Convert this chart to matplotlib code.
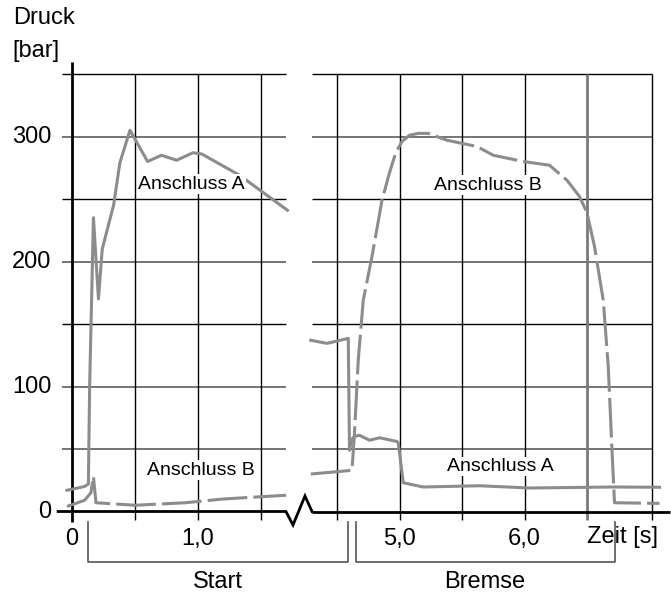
import matplotlib.pyplot as plt

plt.rcParams['font.family'] = ['Liberation Sans', 'DejaVu Sans']

# Start phase (seconds, bar)
start_a_t = [-0.04, 0.10, 0.13, 0.14, 0.17, 0.21, 0.24, 0.33, 0.38, 0.46, 0.60, 0.71, 0.83, 0.96, 1.03, 1.33, 1.71]
start_a_p = [17, 20, 22, 100, 235, 170, 210, 245, 279, 305, 280, 285, 281, 287, 286, 269, 241]
start_b_t = [-0.04, 0.10, 0.15, 0.17, 0.19, 0.50, 0.90, 1.20, 1.70]
start_b_p = [4, 9, 15, 28, 7, 5, 7, 10, 13]

# Braking phase
brake_a_t = [4.29, 4.42, 4.59, 4.60, 4.62, 4.64, 4.68, 4.76, 4.84, 4.98, 4.99, 5.03, 5.19, 5.64, 6.04, 6.71, 7.08]
brake_a_p = [137, 134.5, 138.5, 49, 58, 60, 61, 57, 59, 56, 55, 23, 19.6, 20.6, 18.8, 19.6, 19.4]
brake_b_t = [4.29, 4.52, 4.62, 4.64, 4.67, 4.71, 4.78, 4.86, 4.92, 4.97, 5.02, 5.08, 5.15, 5.23, 5.38, 5.62, 5.75,
             5.99, 6.20, 6.34, 6.44, 6.50, 6.56, 6.63, 6.67, 6.70, 6.72, 7.08]
brake_b_p = [30, 32, 33, 63, 121, 169, 204, 249, 271, 287, 296, 301, 302.5, 302.5, 297, 292, 285,
             280, 277, 265, 252, 239, 212, 169, 116, 49, 7, 6.5]

y_ticks = [0, 100, 200, 300]
gray_rows = [50, 100, 200, 300]
black_rows = [150, 250, 350]

W, H = 671, 592
fig = plt.figure(figsize=(W / 100, H / 100), dpi=100)
split = 299
ax1 = fig.add_axes([0, 0, split / W, 1])
ax2 = fig.add_axes([split / W, 0, (W - split) / W, 1])

ylim = ((511.5 - H) / 1.25, 511.5 / 1.25)
ax1.set_xlim((0 - 72) / 126, (split - 72) / 126)
ax2.set_xlim(4.5 + (split - 337) / 125, 4.5 + (W - 337) / 125)
for ax in (ax1, ax2):
    ax.set_ylim(ylim)
    ax.axis('off')

line_col = '#8c8c8c'
dk = '#6a6a6a'

# grid left
ax1.hlines(gray_rows, -0.08, 1.70, color=dk, lw=1.3)
ax1.hlines(black_rows, -0.08, 1.70, color='black', lw=1.0)
ax1.vlines([0.5, 1.0, 1.5], -7, 350, color='black', lw=1.0)
ax1.vlines(0, -8, 360, color='black', lw=2.0)
ax1.plot([-0.11, 1.698, 1.754, 1.849, 1.905], [0, 0, -10.8, 12.4, 0], color='black', lw=2.0,
         clip_on=False, solid_joinstyle='miter')

# grid right
ax2.hlines(gray_rows, 4.30, 7.02, color=dk, lw=1.3)
ax2.hlines(black_rows, 4.30, 7.02, color='black', lw=1.0)
ax2.vlines([4.5, 5.0, 5.5, 6.0, 7.02], -7, 350, color='black', lw=1.0)
ax2.vlines(6.5, -7, 350, color='#7a7a7a', lw=2.0)
ax2.hlines(0, 4.30, 7.16, color='black', lw=2.0)

# curves
kw = dict(color=line_col, lw=2.2, solid_joinstyle='round', dash_joinstyle='round')
ax1.plot(start_a_t, start_a_p, clip_on=False, **kw)
ax1.plot(start_b_t, start_b_p, dashes=(13, 2), clip_on=False, **kw)
ax2.plot(brake_a_t, brake_a_p, **kw)
ax2.plot(brake_b_t, brake_b_p, dashes=(13, 2), **kw)

box = dict(facecolor='white', edgecolor='none', pad=1)
ax1.text(0.95, 262, 'Anschluss A', ha='center', va='center', fontsize=14, bbox=box)
ax1.text(1.02, 33, 'Anschluss B', ha='center', va='center', fontsize=14, bbox=box)
ax2.text(5.71, 261, 'Anschluss B', ha='center', va='center', fontsize=14, bbox=box)
ax2.text(5.81, 36, 'Anschluss A', ha='center', va='center', fontsize=14, bbox=box)

# tick labels
for v in y_ticks:
    ax1.text(-0.165, v, str(v), ha='right', va='center', fontsize=17)
ax1.text(0, -22, '0', ha='center', va='center', fontsize=17)
ax1.text(1.0, -22, '1,0', ha='center', va='center', fontsize=17)
ax2.text(5.0, -22, '5,0', ha='center', va='center', fontsize=17)
ax2.text(6.0, -22, '6,0', ha='center', va='center', fontsize=17)
ax2.text(6.78, -20.4, 'Zeit [s]', ha='center', va='center', fontsize=17)
fig.text(12.7 / W, 1 - 18 / H, 'Druck', ha='left', va='center', fontsize=17)
fig.text(12.7 / W, 1 - 51 / H, '[bar]', ha='left', va='center', fontsize=17)

# phase brackets
ax1.plot([0.127, 0.127, 2.19, 2.19], [-8.4, -40, -40, -8.4], color='#555555', lw=1.2, clip_on=False)
ax2.plot([4.652, 4.652, 6.724, 6.724], [-8.4, -40, -40, -8.4], color='#555555', lw=1.2, clip_on=False)
ax1.text(1.159, -56.4, 'Start', ha='center', va='center', fontsize=17)
ax2.text(5.684, -56.4, 'Bremse', ha='center', va='center', fontsize=17)

fig.savefig('out.png', dpi=100)
